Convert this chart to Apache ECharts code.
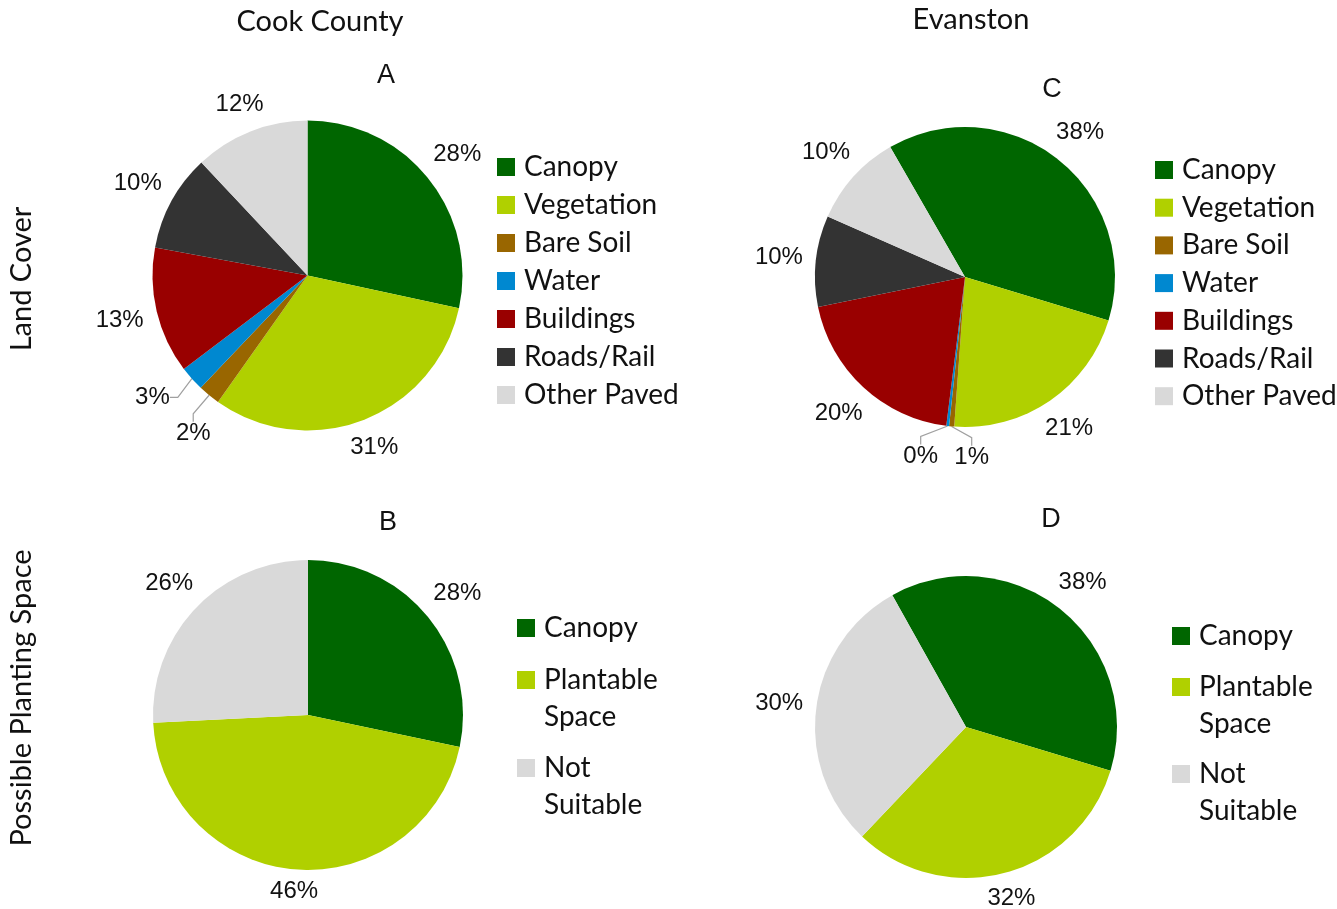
<!DOCTYPE html>
<html>
<head>
<meta charset="utf-8">
<script src="https://cdn.jsdelivr.net/npm/echarts@6/dist/echarts.min.js"></script>
<style>
  html, body { margin: 0; padding: 0; background: #fff; }
  #chart { width: 1337px; height: 909px; }
</style>
</head>
<body>
<div id="chart"></div>
<script>
// ---- Data ----
const landCoverCategories = ['Canopy', 'Vegetation', 'Bare Soil', 'Water', 'Buildings', 'Roads/Rail', 'Other Paved'];
const plantingCategories = ['Canopy', 'Plantable Space', 'Not Suitable'];

const cookLandCover = [28.4, 31.4, 2.3, 2.6, 13.2, 10.1, 12.0];      // A
const cookPlanting = [28.3, 45.9, 25.8];                             // B
const evanstonLandCover = [38.0, 21.45, 0.55, 0.3, 19.8, 9.8, 10.1]; // C
const evanstonPlanting = [37.8, 32.4, 29.8];                         // D

const columnTitles = ['Cook County', 'Evanston'];
const rowTitles = ['Land Cover', 'Possible Planting Space'];
const panelLetters = ['A', 'B', 'C', 'D'];

// ---- Styles ----
const colorMap = {
  'Canopy': '#006600',
  'Vegetation': '#B0D000',
  'Bare Soil': '#996600',
  'Water': '#0088D0',
  'Buildings': '#990000',
  'Roads/Rail': '#333333',
  'Other Paved': '#D9D9D9',
  'Plantable Space': '#B0D000',
  'Not Suitable': '#D9D9D9'
};
const legendFont = 'Lato, "Open Sans", sans-serif';
const labelFont = '"Liberation Sans", Arial, sans-serif';

function total(arr) { return arr.reduce((a, b) => a + b, 0); }

// label angle (degrees clockwise from top) for each slice; consecutive tiny
// slices get their labels spread apart so they don't collide
function labelAngles(vals, startFromTop) {
  const sum = total(vals);
  const mids = [];
  let acc = 0;
  vals.forEach(v => { mids.push(startFromTop + (acc + v / 2) / sum * 360); acc += v; });
  const small = vals.map(v => v / sum < 0.04);
  const minSep = 16;
  for (let i = 0; i < vals.length - 1; i++) {
    if (small[i] && small[i + 1] && mids[i + 1] - mids[i] < minSep) {
      const m = (mids[i] + mids[i + 1]) / 2;
      mids[i] = m - minSep / 2;
      mids[i + 1] = m + minSep / 2;
    }
  }
  return { mids, small, sum };
}

function makeSeries(name, cats, vals, cx, cy, r, startFromTop) {
  const info = labelAngles(vals, startFromTop);
  const data = cats.map((c, i) => ({
    name: c,
    value: vals[i],
    itemStyle: { color: colorMap[c] },
    labelLine: { show: info.small[i] }
  }));
  return {
    type: 'pie',
    name: name,
    center: [cx, cy],
    radius: [0, r],
    startAngle: 90 - startFromTop,
    clockwise: true,
    animation: false,
    silent: true,
    avoidLabelOverlap: false,
    data: data,
    itemStyle: { borderWidth: 0 },
    label: {
      show: true,
      position: 'outside',
      fontFamily: labelFont,
      fontSize: 24,
      color: '#111',
      formatter: p => Math.round(vals[p.dataIndex] / info.sum * 100) + '%'
    },
    labelLine: { show: false, length: 10, length2: 8, lineStyle: { color: '#A0A0A0', width: 1.2 } },
    labelLayout: function (params) {
      const i = params.dataIndex;
      const theta = info.mids[i] * Math.PI / 180;
      const s = Math.sin(theta), c = Math.cos(theta);
      const w = params.labelRect.width + 8, h = params.labelRect.height;
      const gap = info.small[i] ? 18 : 8;
      const d = r + gap + (w / 2) * Math.abs(s) + (h / 2) * Math.abs(c);
      return {
        x: cx + d * s,
        y: cy - d * c,
        align: 'center',
        verticalAlign: 'middle'
      };
    }
  };
}

function legendBlock(names, left, top, lineH, gap, twoLine) {
  return {
    orient: 'vertical',
    left: left,
    top: top,
    data: names,
    selectedMode: false,
    icon: 'rect',
    itemWidth: 18,
    itemHeight: 18,
    itemGap: gap,
    padding: 0,
    formatter: twoLine ? (n => '\n' + n.replace(' ', '\n')) : (n => n),
    textStyle: {
      fontFamily: legendFont,
      fontSize: 28,
      color: '#111',
      lineHeight: lineH,
      padding: [0, 0, 0, 4]
    }
  };
}

const chart = echarts.init(document.getElementById('chart'), null, { renderer: 'canvas' });

const txt = (x, y, text, font, rot) => ({
  type: 'text', x: x, y: y, rotation: rot || 0,
  style: { text: text, font: font, fill: '#111', align: 'center', verticalAlign: 'middle' }
});

const option = {
  backgroundColor: '#fff',
  animation: false,
  legend: [
    legendBlock(landCoverCategories, 497, 152, 30, 8, false),
    legendBlock(landCoverCategories, 1155, 155, 30, 7.7, false),
    legendBlock(['Canopy'], 517, 613, 30, 0, false),
    legendBlock(['Plantable Space'], 517, 680 - 55.5, 37, 0, true),
    legendBlock(['Not Suitable'], 517, 768 - 55.5, 37, 0, true),
    legendBlock(['Canopy'], 1172, 621, 30, 0, false),
    legendBlock(['Plantable Space'], 1172, 687 - 55.5, 37, 0, true),
    legendBlock(['Not Suitable'], 1172, 774 - 55.5, 37, 0, true)
  ],
  graphic: [
    txt(320, 22, columnTitles[0], '29px ' + legendFont),
    txt(971, 20, columnTitles[1], '29px ' + legendFont),
    txt(22, 279, rowTitles[0], '29px ' + legendFont, Math.PI / 2),
    txt(22, 698, rowTitles[1], '29px ' + legendFont, Math.PI / 2),
    txt(386, 76, panelLetters[0], '27px ' + labelFont),
    txt(388, 523, panelLetters[1], '27px ' + labelFont),
    txt(1052, 90, panelLetters[2], '27px ' + labelFont),
    txt(1051, 520, panelLetters[3], '27px ' + labelFont)
  ],
  series: [
    makeSeries('A', landCoverCategories, cookLandCover, 307.5, 275.5, 155, 0),
    makeSeries('B', plantingCategories, cookPlanting, 308, 715, 155, 0),
    makeSeries('C', landCoverCategories, evanstonLandCover, 965, 277, 150, -29.9),
    makeSeries('D', plantingCategories, evanstonPlanting, 966, 727, 151, -29.2)
  ]
};

chart.setOption(option);
</script>
</body>
</html>
